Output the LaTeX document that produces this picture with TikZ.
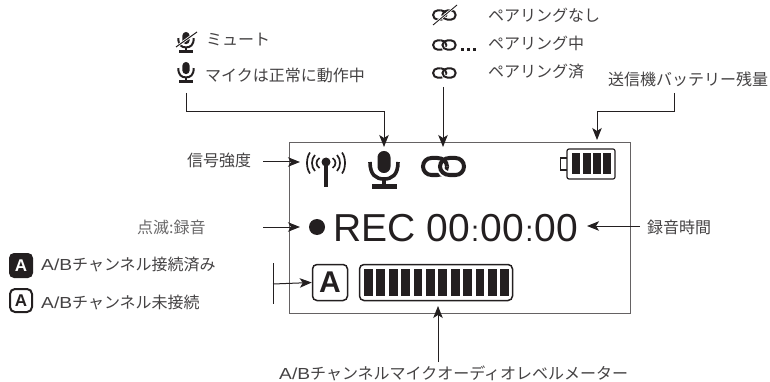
\documentclass[tikz,border=0pt]{standalone}
\usepackage{fontspec}
\usetikzlibrary{arrows.meta}
\setmainfont{Liberation Sans}
\newfontfamily\jp{Noto Sans CJK JP}
\newfontfamily\latinf{Liberation Sans}
\definecolor{ink}{HTML}{231F20}
\definecolor{txt}{HTML}{444243}
\newcommand\AB{{\latinf\scalebox{1.2}[1]{A/B}}}
\newcommand\Cn{\makebox[10.84pt]{\fontsize{29}{29}\selectfont :}}
\tikzset{
  conn/.style={draw=ink,line width=1pt,-{Stealth[length=12pt,width=9.5pt,inset=3pt]}},
  plainline/.style={draw=ink,line width=1pt},
  lab/.style={anchor=west,inner sep=0pt,text=txt,font=\jp\fontsize{16}{16}\selectfont},
  screen/.style={draw=ink!70,line width=1pt},
}
% x y scale linewidth
\newcommand\LinkIcon[4]{%
  \begin{scope}[shift={(#1,#2)},scale=#3]
    \draw[ink,line width=#4] (10.5,-8.5) -- (16.5,-8.5) .. controls (21.8,-8.5) and (26,-4.7) .. (26,0) .. controls (26,4.7) and (21.8,8.5) .. (16.5,8.5) -- (10.5,8.5) .. controls (5.8,8.5) and (2,4.7) .. (2,0) .. controls (2,-4.7) and (5.8,-8.5) .. (10.5,-8.5) -- cycle;
    \foreach \w/\c in {1.9/white,1/ink}{
      \draw[\c,line width=\w*#4] (28.5,-8.5) -- (34.5,-8.5) .. controls (39.2,-8.5) and (43,-4.7) .. (43,0) .. controls (43,4.7) and (39.2,8.5) .. (34.5,8.5) -- (28.5,8.5) .. controls (23.2,8.5) and (19,4.7) .. (19,0) .. controls (19,-4.7) and (23.2,-8.5) .. (28.5,-8.5) -- cycle;
      \draw[\c,line width=\w*#4] (15,-8.5) -- (16.5,-8.5) .. controls (21.8,-8.5) and (26,-4.7) .. (26,0);
    }
  \end{scope}}
\newcommand\MicIcon[4]{%
  \begin{scope}[shift={(#1,#2)},scale=#3]
    \fill[ink,rounded corners=6.4*#3pt] (-6.5,0) rectangle (6.5,22);
    \draw[ink,line width=#4] (-14,11) .. controls (-14,24) and (-8,28) .. (0,28) .. controls (8,28) and (14,24) .. (14,11);
    \fill[ink] (-1.6,28) rectangle (1.6,33);
    \fill[ink] (-12.5,33) rectangle (12.5,38);
  \end{scope}}
\begin{document}
\begin{tikzpicture}[x=1pt,y=-1pt]
\useasboundingbox (0,0) rectangle (770,382);
% screen
\node[screen,inner sep=0pt,minimum width=341pt,minimum height=171pt,anchor=north west] (lcd) at (289,142) {};
% top-left legend
\MicIcon{186}{32}{.55}{2pt}
\draw[white,line width=2.6pt] (176,47) -- (197,32);
\draw[ink,line width=1pt] (176,47) -- (197,32);
\node[lab] (mute) at (206,40) {ミュート};
\MicIcon{186}{62}{.55}{2pt}
\node[lab] (micok) at (205,75) {マイクは正常に動作中};
% top legend
\LinkIcon{432}{15}{.55}{2pt}
\draw[white,line width=2.4pt] (434,24) -- (456,6);
\draw[ink,line width=.9pt] (433,25) -- (457,5);
\node[lab] (pnone) at (488,15) {ペアリングなし};
\LinkIcon{432}{45}{.55}{2pt}
\foreach \d in {461,467,473} \fill[ink] (\d,48.5) rectangle +(3,3);
\node[lab] (ping) at (488,43) {ペアリング中};
\LinkIcon{432}{73}{.55}{2pt}
\node[lab] (pdone) at (488,72) {ペアリング済};
\node[lab] (batt) at (608,79) {送信機バッテリー残量};
% left labels
\node[lab] (sig) at (187,160) {信号強度};
\node[lab,text=txt!80] (blink) at (137,227) {点滅:録音};
\node[lab] (time) at (647,227) {録音時間};
\node[fill=ink,rounded corners=5pt,minimum width=24pt,minimum height=25pt,inner sep=0pt,text=white,font=\bfseries\fontsize{17}{17}\selectfont] (akeyfull) at (21,265.5) {A};
\node[lab] (aon) at (41,264) {\AB チャンネル接続済み};
\node[draw=ink,line width=2pt,rounded corners=5pt,minimum width=22pt,minimum height=23pt,inner sep=0pt,text=ink,font=\bfseries\fontsize{17}{17}\selectfont] (akeyopen) at (21,300.5) {A};
\node[lab] (aoff) at (41,302) {\AB チャンネル未接続};
\node[lab] (meterlab) at (279,373) {\AB チャンネルマイクオーディオレベルメーター};
% antenna
\begin{scope}[ink,line width=1.7pt]
  \fill (326,162) circle[radius=4.5pt];
  \fill (324.3,162) rectangle (327.7,187);
  \foreach \s in {-1,1}\foreach \e/\h in {6.5/5,11/8,16/10.5}{
    \draw (326+\s*\e,163-\h) .. controls (326+\s*\e+\s*4,163-\h/2) and (326+\s*\e+\s*4,163+\h/2) .. (326+\s*\e,163+\h);
  }
\end{scope}
% big icons
\MicIcon{384}{151}{1}{3.6pt}
\LinkIcon{421}{166.5}{1}{4pt}
% battery
\draw[ink,line width=1.2pt,rounded corners=2pt] (567,149) rectangle (615,179);
\draw[ink,line width=1.2pt] (567,158) -- (560.5,158) -- (560.5,170) -- (567,170);
\foreach \d in {572,582.5,593,603} \fill[ink] (\d,153) rectangle +(8,21);
% rec
\fill[ink] (317,227) circle[radius=8pt];
\node[inner sep=0pt,anchor=base west,text=ink,font=\fontsize{39}{39}\selectfont] (rec) at (333,241.7) {REC 00\Cn 00\Cn 00};
% A box and meter
\node[draw=ink,line width=1.5pt,rounded corners=4.5pt,minimum width=35pt,minimum height=36pt,inner sep=0pt,text=ink,font=\bfseries\fontsize{30}{30}\selectfont] (abox) at (330,282.5) {A};
\node[draw=ink,line width=1.5pt,rounded corners=4.5pt,minimum width=153pt,minimum height=36pt,inner sep=0pt] (meter) at (436,282.5) {};
\foreach \i in {0,...,11} \fill[ink] (364+\i*12.4,269) rectangle +(8.7,27);
% connector ends
\coordinate (c1) at (186,93);
\coordinate (c1t) at (384,147);
\coordinate (c2) at (443,87);
\coordinate (c2t) at (443,147);
\coordinate (c3) at (674,93);
\coordinate (c3t) at (597,140);
\coordinate (c4) at (263,162);
\coordinate (c4t) at (300,162);
\coordinate (c5) at (263,227);
\coordinate (c5t) at (300,227);
\coordinate (c6) at (640,226);
\coordinate (c6t) at (587,226);
\coordinate (c7a) at (273,263);
\coordinate (c7b) at (273,304);
\coordinate (c7) at (273,284);
\coordinate (c8) at (438,362);
\coordinate (c8t) at (438,306);
\draw[conn] (c1) -- (186,112) -| (c1t);
\draw[conn] (c2) -- (c2t);
\draw[conn] (c3) -- (674,112) -| (c3t);
\draw[conn] (c4) -- (c4t);
\draw[conn] (c5) -- (c5t);
\draw[conn] (c6) -- (c6t);
\draw[plainline] (c7a) -- (c7b);
\draw[conn] (c7) -- (abox.west);
\draw[conn] (c8) -- (c8t);
\end{tikzpicture}
\end{document}
